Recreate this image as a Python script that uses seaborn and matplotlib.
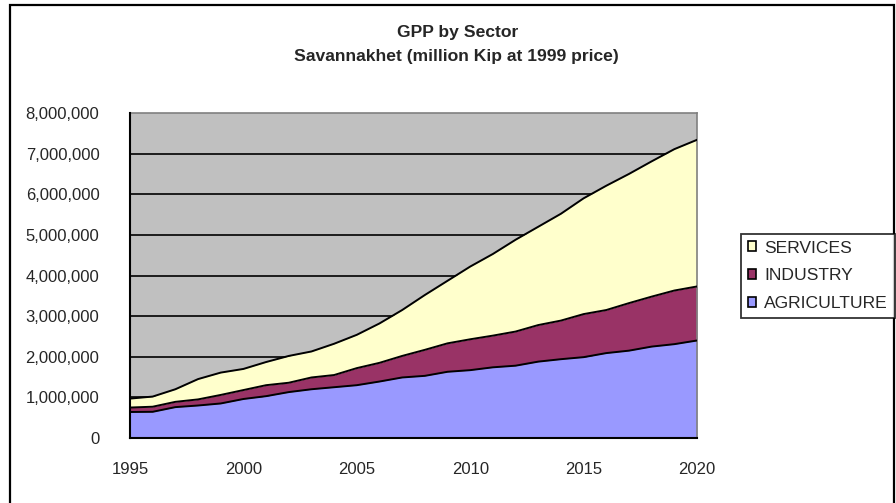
import matplotlib
matplotlib.use("Agg")
import matplotlib.pyplot as plt
import matplotlib.ticker as mticker
from matplotlib.patches import Patch, Rectangle
import numpy as np
import pandas as pd
import seaborn as sns

# GPP by sector, Savannakhet, million Kip at 1999 prices
years = list(range(1995, 2021))
agriculture = [640000, 645000, 760000, 800000, 850000, 960000, 1030000, 1130000,
               1200000, 1250000, 1300000, 1390000, 1490000, 1530000, 1630000,
               1670000, 1740000, 1780000, 1880000, 1940000, 1990000, 2090000,
               2150000, 2250000, 2310000, 2400000]
industry = [110000, 125000, 130000, 150000, 210000, 220000, 270000, 230000,
            290000, 300000, 420000, 460000, 530000, 640000, 700000, 760000,
            780000, 840000, 900000, 950000, 1060000, 1060000, 1170000, 1230000,
            1320000, 1330000]
services = [220000, 250000, 310000, 500000, 550000, 520000, 570000, 660000,
            640000, 770000, 820000, 970000, 1130000, 1350000, 1540000, 1790000,
            2010000, 2260000, 2420000, 2630000, 2850000, 3060000, 3180000,
            3330000, 3480000, 3610000]
sector_names = ["AGRICULTURE", "INDUSTRY", "SERVICES"]
sector_colors = ["#9999FF", "#993366", "#FFFFCC"]
y_ticks = list(range(0, 8000001, 1000000))
x_labels = [1995, 2000, 2005, 2010, 2015, 2020]

sns.set_style("white")
FONT = ["Liberation Sans", "DejaVu Sans"]
plt.rcParams["font.family"] = FONT
LABEL_SIZE = 12

df = pd.DataFrame({"year": years, "AGRICULTURE": agriculture,
                   "INDUSTRY": industry, "SERVICES": services})
stack = df[sector_names].cumsum(axis=1)
stack["year"] = df["year"]

fig = plt.figure(figsize=(8.96, 5.03), dpi=100)
ax = fig.add_axes([130 / 896, 1 - 438 / 503, 567 / 896, 325 / 503])
ax.set_facecolor("#C0C0C0")

# horizontal gridlines behind the areas
for v in y_ticks[1:-1]:
    ax.axhline(v, color="black", lw=1.2, zorder=1)

lower = np.zeros(len(years))
for name, col in zip(sector_names, sector_colors):
    upper = stack[name].to_numpy()
    ax.fill_between(df["year"], lower, upper, color=col, lw=0, zorder=2)
    lower = upper

long = stack.melt(id_vars="year", value_vars=sector_names,
                  var_name="sector", value_name="cum")
sns.lineplot(data=long, x="year", y="cum", units="sector", estimator=None,
             color="black", lw=1.4, ax=ax, zorder=3, legend=False)

ax.set_xlim(1995, 2020)
ax.set_ylim(0, 8000000)
ax.set_xticks(years)
ax.set_xticklabels([str(y) if y in x_labels else "" for y in years])
ax.set_yticks(y_ticks)
ax.yaxis.set_major_formatter(mticker.FuncFormatter(lambda v, p: f"{int(v):,}"))
ax.set_xlabel("")
ax.set_ylabel("")
ax.tick_params(axis="x", direction="out", length=5, width=1.2, color="black",
               labelsize=LABEL_SIZE, pad=12)
ax.tick_params(axis="y", direction="out", length=4, width=1.2, color="black",
               labelsize=LABEL_SIZE, pad=18)
for lab in ax.get_xticklabels() + ax.get_yticklabels():
    lab.set_family(FONT)

for side in ["left", "bottom"]:
    ax.spines[side].set_color("black")
    ax.spines[side].set_linewidth(1.5)
for side in ["top", "right"]:
    ax.spines[side].set_color("#808080")
    ax.spines[side].set_linewidth(1.2)
ax.spines["left"].set_zorder(4)
ax.spines["bottom"].set_zorder(4)

fig.text(458 / 896, 1 - 32 / 503, "GPP by Sector", ha="center", va="center",
         fontsize=12.6, fontweight="bold", family=FONT)
fig.text(456 / 896, 1 - 56 / 503, "Savannakhet (million Kip at 1999 price)",
         ha="center", va="center", fontsize=12.6, fontweight="bold", family=FONT)

handles = [Patch(facecolor=c, edgecolor="black", lw=1.2, label=n)
           for n, c in zip(sector_names, sector_colors)][::-1]
leg = fig.legend(handles=handles, loc="upper left",
                 bbox_to_anchor=(741 / 896, 1 - 234 / 503),
                 frameon=True, fancybox=False, edgecolor="black",
                 fontsize=12.6, handlelength=0.5, handleheight=0.5,
                 handletextpad=0.45, labelspacing=0.72, borderpad=0.38,
                 borderaxespad=0)
leg.get_frame().set_linewidth(1.3)
for t in leg.get_texts():
    t.set_family(FONT)

# outer chart border
fig.add_artist(Rectangle((10 / 896, -0.05), 884 / 896, 1.05 - 5 / 503,
                         transform=fig.transFigure, fill=False,
                         edgecolor="black", lw=1.6))

fig.savefig("out.png", dpi=100)
